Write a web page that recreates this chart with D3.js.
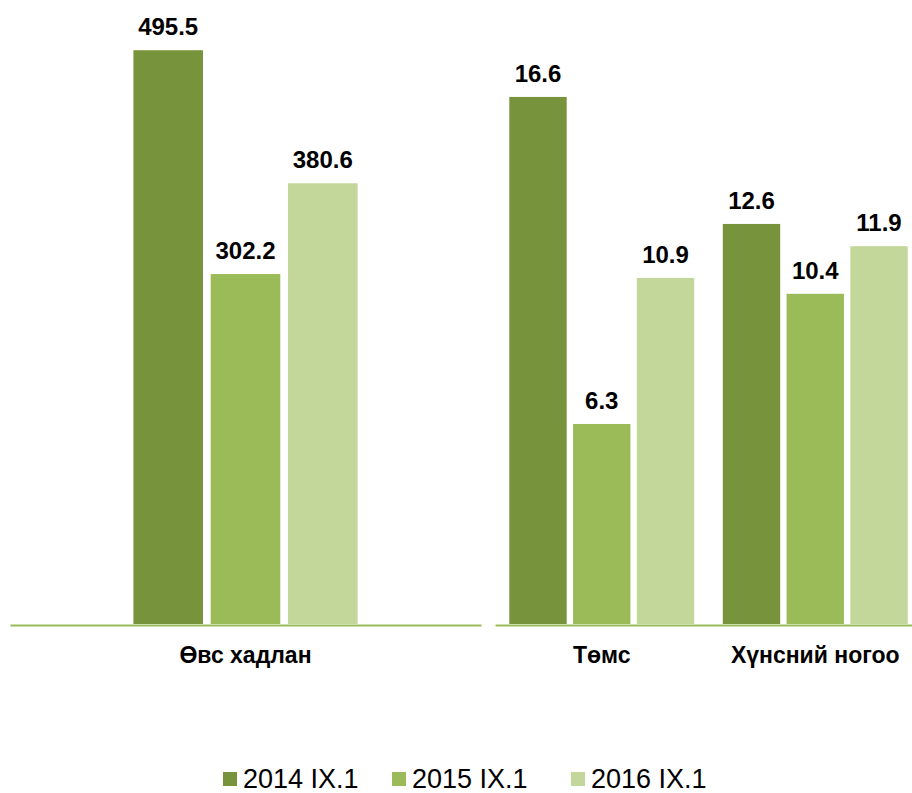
<!DOCTYPE html>
<html>
<head>
<meta charset="utf-8">
<script src="https://cdn.jsdelivr.net/npm/d3@7"></script>
<style>
  html, body { margin: 0; padding: 0; background: #fff; }
  svg { display: block; font-family: "Liberation Sans", Arial, sans-serif; }
</style>
</head>
<body>
<svg id="chart" width="912" height="793"></svg>
<script>
const seriesNames = ['2014 IX.1', '2015 IX.1', '2016 IX.1'];
const seriesColors = ['#77933C', '#9BBB59', '#C4D79B'];

const leftCategories = ['Өвс хадлан'];
const leftValues = [[495.5, 302.2, 380.6]];

const rightCategories = ['Төмс', 'Хүнсний ногоо'];
const rightValues = [[16.6, 6.3, 10.9], [12.6, 10.4, 11.9]];

const svg = d3.select('#chart');
const baseY = 624;

function drawPanel(cats, values, xRange, yMax, yTop, groupFrac) {
  const g = svg.append('g');

  const x = d3.scaleBand().domain(cats).range(xRange).padding(0);
  const y = d3.scaleLinear().domain([0, yMax]).range([baseY, yTop]);

  const bw = x.bandwidth();
  const inner = d3.scaleBand()
    .domain(seriesNames)
    .range([bw * (1 - groupFrac) / 2, bw * (1 + groupFrac) / 2])
    .paddingInner(0.1);

  const groups = g.selectAll('g.cat').data(cats).enter()
    .append('g')
    .attr('class', 'cat')
    .attr('transform', d => `translate(${x(d)},0)`);

  groups.each(function(cat, ci) {
    const rows = values[ci].map((v, si) => ({ name: seriesNames[si], value: v, color: seriesColors[si] }));
    const sel = d3.select(this);

    sel.selectAll('rect').data(rows).enter()
      .append('rect')
      .attr('x', d => inner(d.name))
      .attr('y', d => y(d.value))
      .attr('width', inner.bandwidth())
      .attr('height', d => y(0) - y(d.value))
      .attr('fill', d => d.color);

    sel.selectAll('text.val').data(rows).enter()
      .append('text')
      .attr('class', 'val')
      .attr('x', d => inner(d.name) + inner.bandwidth() / 2)
      .attr('y', d => y(d.value) - 15)
      .attr('text-anchor', 'middle')
      .attr('font-size', 24)
      .attr('font-weight', 'bold')
      .attr('fill', '#000')
      .text(d => d.value.toFixed(1));
  });

  // category axis
  const axis = g.append('g')
    .attr('transform', `translate(0,${baseY + 1})`)
    .call(d3.axisBottom(x).tickSize(0).tickPadding(22).tickSizeOuter(0));
  axis.select('.domain').attr('stroke', '#9BBB59').attr('stroke-width', 2);
  axis.selectAll('.tick text')
    .attr('font-family', '"Liberation Sans", Arial, sans-serif')
    .attr('font-size', 23)
    .attr('font-weight', 'bold')
    .attr('fill', '#000');
}

drawPanel(leftCategories, leftValues, [10, 481], 500, 45, 0.476);
drawPanel(rightCategories, rightValues, [495, 922], 18, 52.5, 0.866);

// Legend
const legendX = [223, 392, 571];
const legend = svg.append('g');
const item = legend.selectAll('g').data(seriesNames).enter()
  .append('g')
  .attr('transform', (d, i) => `translate(${legendX[i]},772)`);
item.append('rect')
  .attr('width', 14).attr('height', 14)
  .attr('fill', (d, i) => seriesColors[i]);
item.append('text')
  .attr('x', 20)
  .attr('y', 16)
  .attr('font-size', 27)
  .attr('fill', '#000')
  .text(d => d);
</script>
</body>
</html>
